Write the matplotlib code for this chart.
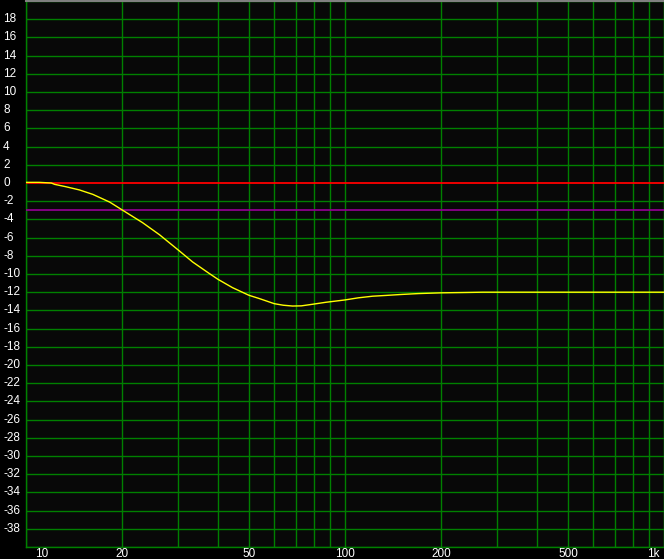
import matplotlib
matplotlib.use("Agg")
import matplotlib.pyplot as plt
import matplotlib.ticker as ticker
import matplotlib.transforms as mtrans

# response (Hz, dB)
freq = [10, 11, 12, 12.3, 13.3, 14.7, 16.2, 18.3, 20, 23.2, 26.2, 30, 33.3,
        37.6, 40, 44.4, 50, 53.9, 60, 64, 68.5, 73, 79, 87, 100, 110, 122,
        135, 150, 170, 200, 240, 270, 350, 500, 1000]
gain = [0.07, 0.07, 0.0, -0.15, -0.4, -0.76, -1.25, -2.1, -2.95, -4.36, -5.68,
        -7.36, -8.68, -9.96, -10.59, -11.5, -12.34, -12.7, -13.26, -13.43,
        -13.52, -13.5, -13.33, -13.11, -12.85, -12.62, -12.44, -12.35, -12.25,
        -12.15, -12.07, -12.03, -12.0, -12.0, -12.0, -12.0]

ref_levels = [0, -3]
ref_colors = ["#ff0000", "#8c008c"]

y_ticks = list(range(-38, 20, 2))
x_ticks = [10, 20, 50, 100, 200, 500, 1000]
x_labels = ["10", "20", "50", "100", "200", "500", "1k"]

plt.rcParams["font.family"] = ["Liberation Sans", "DejaVu Sans"]

W, H = 664, 559
px = 0.72  # one pixel in points at 100 dpi
fig = plt.figure(figsize=(W / 100, H / 100), dpi=100, facecolor="black")
ax = fig.add_axes([26 / W, 12 / H, (W - 26) / W, 546 / H])
ax.set_facecolor("#080808")

ax.set_xscale("log")
ax.set_xlim(10, 1000)
ax.set_ylim(-40, 20)

grid_green = "#008000"
ax.xaxis.set_major_locator(ticker.FixedLocator(x_ticks))
ax.xaxis.set_minor_locator(ticker.LogLocator(base=10, subs=range(1, 10)))
ax.xaxis.set_major_formatter(ticker.NullFormatter())
ax.xaxis.set_minor_formatter(ticker.NullFormatter())
# the 0 dB row is drawn by the red reference line instead
ax.set_yticks([v for v in range(-40, 21, 2) if v != 0])
ax.set_yticklabels([])
ax.grid(True, which="both", axis="x", color=grid_green, lw=1.4 * px, snap=True)
ax.grid(True, which="major", axis="y", color=grid_green, lw=1.4 * px, snap=True)
ax.tick_params(which="both", length=0)
ax.set_axisbelow(True)

for lvl, c in zip(ref_levels, ref_colors):
    ax.axhline(lvl, color=c, lw=1.8 * px, zorder=3, snap=True)

ax.plot(freq, gain, color="#ffff00", lw=1.4 * px, zorder=4)

for side in ["left", "bottom", "right"]:
    ax.spines[side].set_color(grid_green)
    ax.spines[side].set_linewidth(1.4 * px)
ax.spines["top"].set_color("#808080")
ax.spines["top"].set_linewidth(1.5)

# y labels sit in the black strip, left aligned
ylab = mtrans.blended_transform_factory(fig.transFigure, ax.transData)
for v in y_ticks:
    ax.text(3 / W, v, str(v), color="white", fontsize=8.5, va="center",
            ha="left", transform=ylab, clip_on=False)

xlab = ax.get_xaxis_transform()
for f, lab in zip(x_ticks, x_labels):
    ha = "center"
    xpos = f
    if f == x_ticks[0]:
        ha = "left"
        xpos = f * 1.07
    if f == x_ticks[-1]:
        ha = "right"
        xpos = f * 0.97
    ax.text(xpos, -0.012, lab, color="white", fontsize=8.5, ha=ha, va="center",
            transform=xlab, clip_on=False)

fig.savefig("out.png", dpi=100, facecolor="black")
